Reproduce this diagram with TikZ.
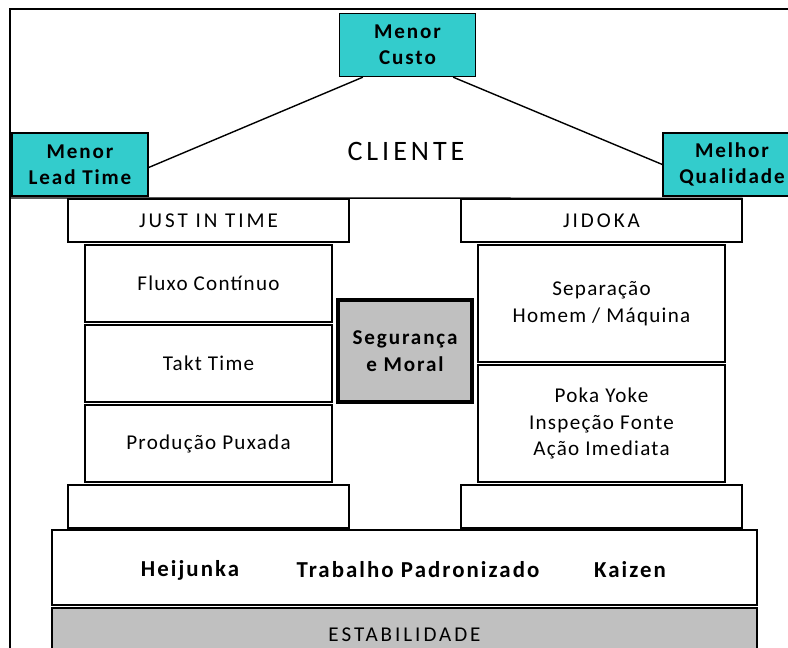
\documentclass[tikz,border=0pt]{standalone}
\usepackage{fontspec}
\setmainfont{Carlito}[LetterSpace=6]
\newfontfamily\widefont{Carlito}[LetterSpace=14]
\newfontfamily\metafont{Carlito}[LetterSpace=9]
\usetikzlibrary{calc}

\definecolor{metacor}{HTML}{33CCCC}
\definecolor{basecor}{HTML}{C0C0C0}

\tikzset{
  caixa/.style={draw, line width=0.8pt, fill=white, align=center, inner sep=0pt,
    font=\fontsize{12}{15}\selectfont},
  meta/.style={caixa, fill=metacor, font=\fontsize{12}{15}\selectfont\metafont\bfseries,
    minimum width=2.72cm, minimum height=1.26cm},
  telhado/.style={caixa, font=\fontsize{12}{15}\selectfont\widefont,
    minimum width=5.62cm, minimum height=0.86cm},
  pilar/.style={caixa, minimum width=4.94cm},
  base/.style={font=\fontsize{13}{15}\selectfont\metafont\bfseries}
}

\begin{document}
\begin{tikzpicture}[x=0.02cm, y=-0.02cm]

     \useasboundingbox (0,0) rectangle (788,648);
     \clip (0,0) rectangle (788,648);

     % frame
     \draw[line width=0.8pt] (10,9) rectangle (820,700);
     \coordinate (roofL) at (10,198);

     % goals
     \node[meta] (custo) at (407.5,45) {Menor\\Custo};
     \node[meta] (leadtime) at (80,164.5) {Menor\\Lead Time};
     \node[meta, minimum width=2.76cm] (qualidade) at (732,164.5) {Melhor\\Qualidade};
     \node[font=\fontsize{16}{19}\selectfont\widefont] (cliente) at (406,151) {CLIENTE};

     \draw[line width=0.8pt] ($(custo.south west)+(24,0)$) -- ($(leadtime.east)+(0,3)$);
     \draw[line width=0.8pt] ($(custo.south east)+(-23,0)$) -- (qualidade.west);

     % roof
     \node[telhado] (jit) at (208.5,220.5) {JUST IN TIME};
     \node[telhado] (jidoka) at (601.5,220.5) {JIDOKA};
     \draw[line width=0.8pt] (roofL) -- (jidoka.north east);

     % just in time
     \node[pilar, minimum height=1.54cm] (fluxo) at (208.5,283.5) {Fluxo Contínuo};
     \node[pilar, minimum height=1.54cm] (takt) at (208.5,363.5) {Takt Time};
     \node[pilar, minimum height=1.54cm] (puxada) at (208.5,443.5) {Produção Puxada};

     % jidoka
     \node[pilar, minimum height=2.34cm] (separacao) at (601.5,303.5) {Separação\\Homem / Máquina};
     \node[pilar, minimum height=2.34cm] (pokayoke) at (601.5,423.5) {Poka Yoke\\Inspeção Fonte\\Ação Imediata};

     % center
     \node[caixa, line width=2.3pt, fill=basecor, font=\fontsize{12}{15}\selectfont\metafont\bfseries,
       minimum width=2.68cm, minimum height=2.04cm] (seguranca) at (405,351) {Segurança\\e Moral};

     % foot
     \node[telhado] (pesq) at (208.5,506.5) {};
     \node[telhado] (pesd) at (601.5,506.5) {};

     % base
     \node[caixa, line width=1.6pt, minimum width=14.1cm, minimum height=1.5cm] (fundacao) at (404.5,567.5) {};
     \node[base] (heijunka) at (190,570) {Heijunka};
     \node[base] (padrao) at (418,570) {Trabalho Padronizado};
     \node[base] (kaizen) at (630,570) {Kaizen};

     \node[caixa, line width=1.6pt, fill=basecor, minimum width=14.1cm, minimum height=1.08cm,
       font=\fontsize{12}{15}\selectfont\widefont] (estabilidade) at (404.5,635) {ESTABILIDADE};

\end{tikzpicture}
\end{document}
